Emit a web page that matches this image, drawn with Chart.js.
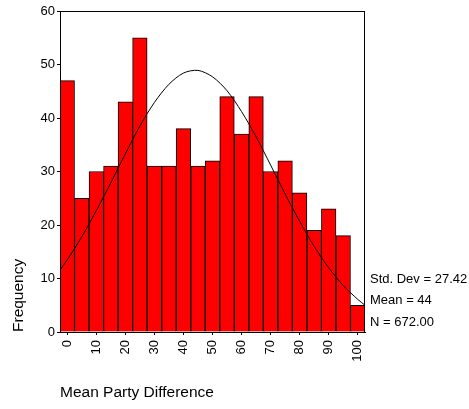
<!DOCTYPE html>
<html>
<head>
<meta charset="utf-8">
<script src="https://cdn.jsdelivr.net/npm/chart.js@4/dist/chart.umd.min.js"></script>
<style>
  html, body { margin: 0; padding: 0; background: #fff; }
  #wrap { width: 469px; height: 409px; }
</style>
</head>
<body>
<div id="wrap"><canvas id="histChart" width="469" height="409"></canvas></div>
<script>
// bin centres (width 5) and counts
var binCenters = [0, 5, 10, 15, 20, 25, 30, 35, 40, 45, 50, 55, 60, 65, 70, 75, 80, 85, 90, 95, 100];
var frequency = [47, 25, 30, 31, 43, 55, 31, 31, 38, 31, 32, 44, 37, 44, 30, 32, 26, 19, 23, 18, 5];

// normal curve
var curveX = [-2.5, 0, 5, 10, 15, 20, 25, 30, 35, 40, 45, 50, 55, 60, 65, 70, 75, 80, 85, 90, 95, 100, 102.5];
var curveY = [11.6, 13.5, 17.8, 22.7, 27.9, 33.3, 38.5, 42.9, 46.3, 48.4, 48.9, 47.7, 45.1, 41.2, 36.5, 31.2, 25.8, 20.7, 16.0, 12.0, 8.7, 6.1, 5.0];

var xTicks = [0, 10, 20, 30, 40, 50, 60, 70, 80, 90, 100];
var yTicks = [0, 10, 20, 30, 40, 50, 60];
var statsLines = ['Std. Dev = 27.42', 'Mean = 44', 'N = 672.00'];

var fontFamily = '"Liberation Sans", Arial, sans-serif';

// box round the plot area + summary text on the right
var framePlugin = {
    id: 'frame',
    afterDraw: function (chart) {
        var ctx = chart.ctx, a = chart.chartArea;
        ctx.save();
        ctx.strokeStyle = '#000';
        ctx.lineWidth = 1;
        ctx.strokeRect(Math.round(a.left) + 0.5, Math.round(a.top) + 0.5,
            Math.round(a.right - a.left) - 1, Math.round(a.bottom - a.top));
        ctx.fillStyle = '#000';
        ctx.font = '13px ' + fontFamily;
        ctx.textBaseline = 'middle';
        ctx.textAlign = 'left';
        statsLines.forEach(function (t, i) {
            ctx.fillText(t, a.right + 5, 279 + i * 21.5);
        });
        ctx.restore();
    }
};

var ctx = document.getElementById('histChart').getContext('2d');
var histChart = new Chart(ctx, {
    data: {
        datasets: [{
            type: 'line',
            data: curveX.map(function (x, i) { return { x: x, y: curveY[i] }; }),
            borderColor: '#000',
            borderWidth: 1,
            pointRadius: 0,
            tension: 0.3,
            fill: false
        }, {
            type: 'bar',
            data: binCenters.map(function (x, i) { return { x: x, y: frequency[i] }; }),
            backgroundColor: '#ff0000',
            borderColor: '#000',
            borderWidth: 1,
            barPercentage: 1,
            categoryPercentage: 1
        }]
    },
    options: {
        responsive: false,
        animation: false,
        layout: { padding: { left: 0, right: 104, top: 11, bottom: 0 } },
        plugins: {
            legend: { display: false },
            tooltip: { enabled: false }
        },
        scales: {
            x: {
                type: 'linear',
                offset: false,
                min: -2.5,
                max: 102.5,
                afterBuildTicks: function (s) { s.ticks = xTicks.map(function (v) { return { value: v }; }); },
                afterFit: function (s) { s.height = 77; },
                grid: { offset: false, drawOnChartArea: false, drawTicks: true, tickLength: 3, color: '#000' },
                border: { display: true, color: '#000', width: 1 },
                ticks: {
                    color: '#000',
                    font: { family: fontFamily, size: 13 },
                    minRotation: 90,
                    maxRotation: 90,
                    padding: 5
                },
                title: {
                    display: true,
                    text: 'Mean Party Difference',
                    align: 'start',
                    color: '#000',
                    font: { family: fontFamily, size: 15.5 },
                    padding: { top: 0, bottom: 7 }
                }
            },
            y: {
                min: 0,
                max: 60,
                afterBuildTicks: function (s) { s.ticks = yTicks.map(function (v) { return { value: v }; }); },
                afterFit: function (s) { s.width = 60; },
                grid: { drawOnChartArea: false, drawTicks: true, tickLength: 3, color: '#000' },
                border: { display: true, color: '#000', width: 1 },
                ticks: {
                    color: '#000',
                    font: { family: fontFamily, size: 13 },
                    padding: 2
                },
                title: {
                    display: true,
                    text: 'Frequency',
                    align: 'start',
                    color: '#000',
                    font: { family: fontFamily, size: 15.5 },
                    padding: { top: 9, bottom: 0 }
                }
            }
        }
    },
    plugins: [framePlugin]
});
</script>
</body>
</html>
